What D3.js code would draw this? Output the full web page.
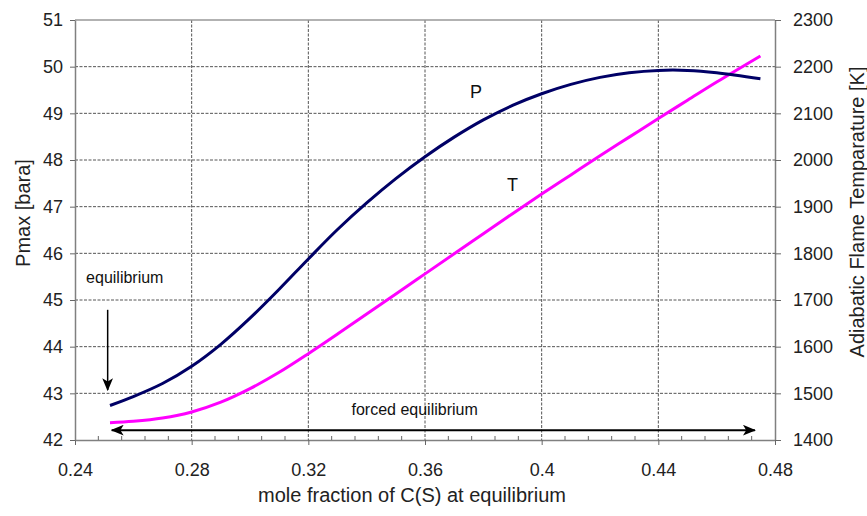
<!DOCTYPE html>
<html>
<head>
<meta charset="utf-8">
<script src="https://cdn.jsdelivr.net/npm/d3@7"></script>
<style>
    body { margin: 0; background: #fff; }
    svg { display: block; font-family: "Liberation Sans", Arial, sans-serif; }
</style>
</head>
<body>
<div id="chart"></div>
<script>
// mole fraction of C(S) at equilibrium
const moleFraction = [0.252, 0.26, 0.27, 0.28, 0.29, 0.30, 0.31, 0.32, 0.33, 0.34, 0.35, 0.36,
    0.37, 0.38, 0.39, 0.40, 0.41, 0.42, 0.43, 0.44, 0.45, 0.46, 0.475];
// Pmax [bara]
const pmax = [42.74, 42.93, 43.21, 43.58, 44.05, 44.61, 45.23, 45.88, 46.51, 47.08, 47.60, 48.07,
    48.49, 48.86, 49.17, 49.42, 49.62, 49.77, 49.87, 49.92, 49.92, 49.87, 49.74];
// adiabatic flame temperature [K]
const flameTemp = [1437, 1440, 1447, 1460, 1481, 1510, 1545, 1585, 1627, 1670, 1713, 1756,
    1799, 1842, 1885, 1927, 1968, 2009, 2049, 2089, 2128, 2167, 2223];

const xTicks = [0.24, 0.28, 0.32, 0.36, 0.40, 0.44, 0.48];
const pTicks = [42, 43, 44, 45, 46, 47, 48, 49, 50, 51];
const tTicks = [1400, 1500, 1600, 1700, 1800, 1900, 2000, 2100, 2200, 2300];

const canvasWidth = 867;
const canvasHeight = 516;
const plotLeft = 75, plotRight = 775, plotTop = 20, plotBottom = 440;

const svg = d3.select('#chart').append('svg')
    .attr('width', canvasWidth)
    .attr('height', canvasHeight);

const x = d3.scaleLinear().domain([0.24, 0.48]).range([plotLeft, plotRight]);
const yP = d3.scaleLinear().domain([42, 51]).range([plotBottom, plotTop]);
const yT = d3.scaleLinear().domain([1400, 2300]).range([plotBottom, plotTop]);

//grid
svg.append('g')
    .selectAll('line')
    .data(pTicks.slice(1, -1))
    .enter()
    .append('line')
    .attr('x1', plotLeft).attr('x2', plotRight)
    .attr('y1', d => yP(d)).attr('y2', d => yP(d))
    .attr('stroke', '#555')
    .attr('stroke-dasharray', '3,1.5');

svg.append('g')
    .selectAll('line')
    .data(xTicks.slice(1, -1))
    .enter()
    .append('line')
    .attr('x1', d => x(d)).attr('x2', d => x(d))
    .attr('y1', plotTop).attr('y2', plotBottom)
    .attr('stroke', '#555')
    .attr('stroke-dasharray', '3,1.5');

// top border
svg.append('line')
    .attr('x1', plotLeft).attr('x2', plotRight)
    .attr('y1', plotTop).attr('y2', plotTop)
    .attr('stroke', '#999')
    .attr('stroke-width', 1.5);

// x axis
const xAxis = d3.axisBottom(x)
    .tickValues(xTicks)
    .tickSizeInner(5)
    .tickSizeOuter(0)
    .tickPadding(18)
    .tickFormat(d => String(+d.toFixed(2)));

svg.append('g')
    .attr('class', 'xaxis')
    .attr('transform', 'translate(0,' + plotBottom + ')')
    .call(xAxis);

// minor ticks, pointing up
const minor = d3.range(0, 31).map(i => 0.24 + i * 0.008)
    .filter(d => xTicks.every(t => Math.abs(t - d) > 1e-6));
svg.append('g')
    .selectAll('line')
    .data(minor)
    .enter()
    .append('line')
    .attr('x1', d => x(d)).attr('x2', d => x(d))
    .attr('y1', plotBottom).attr('y2', plotBottom - 4)
    .attr('stroke', '#666');

// y axis left
svg.append('g')
    .attr('class', 'yaxis')
    .attr('transform', 'translate(' + plotLeft + ',0)')
    .call(d3.axisLeft(yP).tickValues(pTicks).tickSizeInner(5).tickSizeOuter(0).tickPadding(7));

// y axis right
svg.append('g')
    .attr('class', 'yaxis')
    .attr('transform', 'translate(' + plotRight + ',0)')
    .call(d3.axisRight(yT).tickValues(tTicks).tickFormat(d3.format('d'))
        .tickSizeInner(6).tickSizeOuter(0).tickPadding(12));

svg.selectAll('.xaxis .domain, .yaxis .domain')
    .attr('stroke', '#808080')
    .attr('stroke-width', 1.5);
svg.selectAll('.tick line').attr('stroke', '#666');
svg.selectAll('.tick text')
    .style('font-size', '18px')
    .style('font-family', '"Liberation Sans", Arial, sans-serif')
    .attr('fill', '#222');

// curves
const pLine = d3.line()
    .x((d, i) => x(moleFraction[i]))
    .y(d => yP(d))
    .curve(d3.curveCatmullRom.alpha(0.5));
const tLine = d3.line()
    .x((d, i) => x(moleFraction[i]))
    .y(d => yT(d))
    .curve(d3.curveCatmullRom.alpha(0.5));

svg.append('path')
    .datum(flameTemp)
    .attr('d', tLine)
    .attr('fill', 'none')
    .attr('stroke', '#ff00ff')
    .attr('stroke-width', 3);

svg.append('path')
    .datum(pmax)
    .attr('d', pLine)
    .attr('fill', 'none')
    .attr('stroke', '#000066')
    .attr('stroke-width', 3);

// arrow heads
const defs = svg.append('defs');
defs.append('marker')
    .attr('id', 'head')
    .attr('viewBox', '0 0 12 10')
    .attr('refX', 11).attr('refY', 5)
    .attr('markerUnits', 'userSpaceOnUse')
    .attr('markerWidth', 13).attr('markerHeight', 11)
    .attr('orient', 'auto-start-reverse')
    .append('path')
    .attr('d', 'M0,0 L12,5 L0,10 L3,5 Z')
    .attr('fill', '#000');

// equilibrium arrow
svg.append('line')
    .attr('x1', x(0.2512)).attr('x2', x(0.2512))
    .attr('y1', yP(44.79)).attr('y2', yP(43.07))
    .attr('stroke', '#000')
    .attr('stroke-width', 1.5)
    .attr('marker-end', 'url(#head)');

// forced equilibrium arrow
svg.append('line')
    .attr('x1', x(0.2526)).attr('x2', x(0.4731))
    .attr('y1', yP(42.21)).attr('y2', yP(42.21))
    .attr('stroke', '#000')
    .attr('stroke-width', 2)
    .attr('marker-start', 'url(#head)')
    .attr('marker-end', 'url(#head)');

// annotations
svg.append('text')
    .attr('x', x(0.2438)).attr('y', yP(45.36))
    .text('equilibrium')
    .style('font-size', '16px')
    .attr('fill', '#111');
svg.append('text')
    .attr('x', x(0.3348)).attr('y', yP(42.54))
    .text('forced equilibrium')
    .style('font-size', '16px')
    .attr('fill', '#111');
svg.append('text')
    .attr('x', x(0.3775)).attr('y', yP(49.33))
    .attr('text-anchor', 'middle')
    .text('P')
    .style('font-size', '18px')
    .attr('fill', '#111');
svg.append('text')
    .attr('x', x(0.390)).attr('y', yP(47.34))
    .attr('text-anchor', 'middle')
    .text('T')
    .style('font-size', '18px')
    .attr('fill', '#111');

// axis titles
svg.append('text')
    .attr('transform', 'translate(30,213) rotate(-90)')
    .attr('text-anchor', 'middle')
    .text('Pmax [bara]')
    .style('font-size', '20px')
    .attr('fill', '#222');
svg.append('text')
    .attr('transform', 'translate(864,212) rotate(-90)')
    .attr('text-anchor', 'middle')
    .text('Adiabatic Flame Temparature [K]')
    .style('font-size', '20px')
    .attr('fill', '#222');
svg.append('text')
    .attr('x', 412).attr('y', 502)
    .attr('text-anchor', 'middle')
    .text('mole fraction of C(S) at equilibrium')
    .style('font-size', '20px')
    .attr('fill', '#222');
</script>
</body>
</html>
